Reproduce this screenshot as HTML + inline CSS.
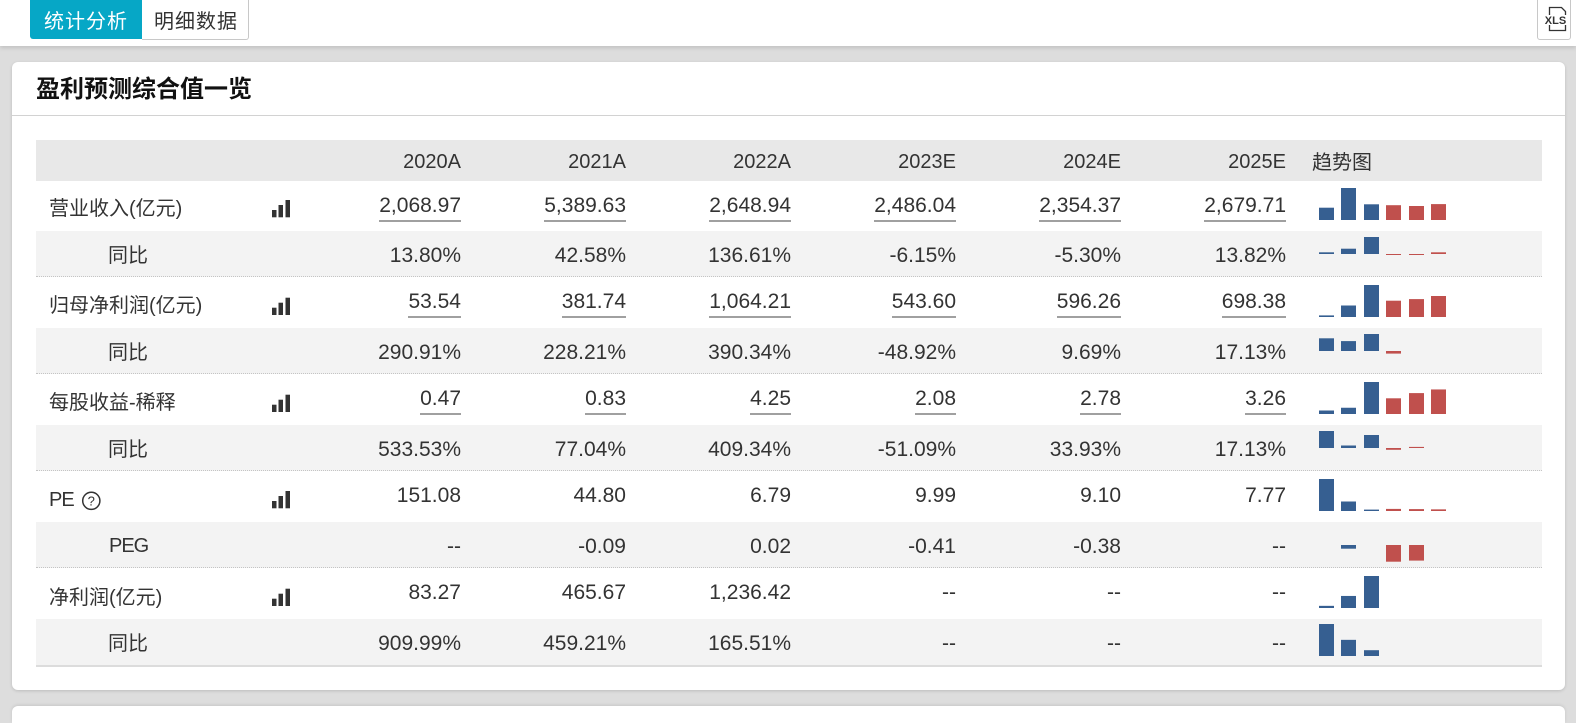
<!DOCTYPE html>
<html><head><meta charset="utf-8">
<style>
html{margin:0;padding:0;overflow:hidden;width:1576px;height:723px}
body{margin:0;padding:0;width:1576px;height:723px;overflow:hidden;background:#dddddd;position:relative;font-family:"Liberation Sans","Noto Sans CJK SC",sans-serif;color:#333}
.a{position:absolute;white-space:nowrap;line-height:24px;font-size:20px;color:#333}
.n{font-size:21px}
.u{padding-bottom:2px;border-bottom:2px solid #a0a0a0}
.bg{position:absolute;left:36px;width:1506px}
.w{background:#fff}
.g{background:#f3f3f3;border-bottom:1px dotted #c4c4c4;box-sizing:border-box}
</style></head><body>

<!-- top bar -->
<div style="position:absolute;left:0;top:0;width:1576px;height:46px;background:#fff;box-shadow:0 2px 4px rgba(0,0,0,0.13)"></div>
<div style="position:absolute;left:30px;top:0;width:112px;height:39px;background:#06a7c6;border-radius:0 0 0 3px"></div>
<div class="a" style="left:30px;width:112px;text-align:center;top:10px;color:#fff;letter-spacing:1px">统计分析</div>
<div style="position:absolute;left:142px;top:-1px;width:106px;height:39px;background:#fff;border:1px solid #c8c8c8;border-left:none;border-radius:0 0 3px 0"></div>
<div class="a" style="left:142px;width:108px;text-align:center;top:10px;letter-spacing:1px">明细数据</div>
<div style="position:absolute;left:1537px;top:-3px;width:32px;height:41px;background:#fff;border:1px solid #c8c8c8;border-radius:3px"></div>

<!-- main card -->
<div style="position:absolute;left:12px;top:62px;width:1553px;height:628px;background:#fff;border-radius:6px;box-shadow:0 1px 3px rgba(0,0,0,0.15)"></div>
<div style="position:absolute;left:12px;top:115px;width:1553px;height:1px;background:#d2d2d2"></div>
<div class="a" style="left:36px;top:75px;font-size:24px;line-height:30px;font-weight:bold;color:#111">盈利预测综合值一览</div>

<!-- second card (clipped) -->
<div style="position:absolute;left:12px;top:706px;width:1553px;height:17px;background:#fff;border-radius:6px 6px 0 0;box-shadow:0 -1px 3px rgba(0,0,0,0.1);overflow:hidden">
  <div class="a" style="left:24px;top:16px;font-size:24px;line-height:30px;font-weight:bold;color:#111">机构预测</div>
</div>

<!-- table backgrounds -->
<div class="bg" style="top:140px;height:41px;background:#e8e8e8"></div>
<div class="bg w" style="top:181px;height:50px"></div>
<div class="bg g" style="top:231px;height:46px"></div>
<div class="bg w" style="top:277px;height:51px"></div>
<div class="bg g" style="top:328px;height:46px"></div>
<div class="bg w" style="top:374px;height:51px"></div>
<div class="bg g" style="top:425px;height:46px"></div>
<div class="bg w" style="top:471px;height:51px"></div>
<div class="bg g" style="top:522px;height:46px"></div>
<div class="bg w" style="top:568px;height:51px"></div>
<div class="bg" style="top:619px;height:46px;background:#f3f3f3"></div>
<div class="bg" style="top:665px;height:2px;background:#dcdcdc"></div>

<!-- header -->
<div class="a" style="top:150px;right:1115px">2020A</div>
<div class="a" style="top:150px;right:950px">2021A</div>
<div class="a" style="top:150px;right:785px">2022A</div>
<div class="a" style="top:150px;right:620px">2023E</div>
<div class="a" style="top:150px;right:455px">2024E</div>
<div class="a" style="top:150px;right:290px">2025E</div>
<div class="a" style="top:151px;left:1312px">趋势图</div>

<!-- labels -->
<div class="a" style="top:197px;left:49px">营业收入(亿元)</div>
<div class="a" style="top:244px;left:108px">同比</div>
<div class="a" style="top:294px;left:49px">归母净利润(亿元)</div>
<div class="a" style="top:341px;left:108px">同比</div>
<div class="a" style="top:391px;left:49px">每股收益-稀释</div>
<div class="a" style="top:438px;left:108px">同比</div>
<div class="a" style="top:488px;left:49px;letter-spacing:-1px">PE</div>
<div class="a" style="top:534px;left:109px;letter-spacing:-1px">PEG</div>
<div class="a" style="top:586px;left:49px">净利润(亿元)</div>
<div class="a" style="top:632px;left:108px">同比</div>

<!-- row 1 -->
<div class="a n u" style="top:194px;right:1115px">2,068.97</div>
<div class="a n u" style="top:194px;right:950px">5,389.63</div>
<div class="a n u" style="top:194px;right:785px">2,648.94</div>
<div class="a n u" style="top:194px;right:620px">2,486.04</div>
<div class="a n u" style="top:194px;right:455px">2,354.37</div>
<div class="a n u" style="top:194px;right:290px">2,679.71</div>
<!-- row 2 -->
<div class="a n" style="top:244px;right:1115px">13.80%</div>
<div class="a n" style="top:244px;right:950px">42.58%</div>
<div class="a n" style="top:244px;right:785px">136.61%</div>
<div class="a n" style="top:244px;right:620px">-6.15%</div>
<div class="a n" style="top:244px;right:455px">-5.30%</div>
<div class="a n" style="top:244px;right:290px">13.82%</div>
<!-- row 3 -->
<div class="a n u" style="top:290px;right:1115px">53.54</div>
<div class="a n u" style="top:290px;right:950px">381.74</div>
<div class="a n u" style="top:290px;right:785px">1,064.21</div>
<div class="a n u" style="top:290px;right:620px">543.60</div>
<div class="a n u" style="top:290px;right:455px">596.26</div>
<div class="a n u" style="top:290px;right:290px">698.38</div>
<!-- row 4 -->
<div class="a n" style="top:341px;right:1115px">290.91%</div>
<div class="a n" style="top:341px;right:950px">228.21%</div>
<div class="a n" style="top:341px;right:785px">390.34%</div>
<div class="a n" style="top:341px;right:620px">-48.92%</div>
<div class="a n" style="top:341px;right:455px">9.69%</div>
<div class="a n" style="top:341px;right:290px">17.13%</div>
<!-- row 5 -->
<div class="a n u" style="top:387px;right:1115px">0.47</div>
<div class="a n u" style="top:387px;right:950px">0.83</div>
<div class="a n u" style="top:387px;right:785px">4.25</div>
<div class="a n u" style="top:387px;right:620px">2.08</div>
<div class="a n u" style="top:387px;right:455px">2.78</div>
<div class="a n u" style="top:387px;right:290px">3.26</div>
<!-- row 6 -->
<div class="a n" style="top:438px;right:1115px">533.53%</div>
<div class="a n" style="top:438px;right:950px">77.04%</div>
<div class="a n" style="top:438px;right:785px">409.34%</div>
<div class="a n" style="top:438px;right:620px">-51.09%</div>
<div class="a n" style="top:438px;right:455px">33.93%</div>
<div class="a n" style="top:438px;right:290px">17.13%</div>
<!-- row 7 -->
<div class="a n" style="top:484px;right:1115px">151.08</div>
<div class="a n" style="top:484px;right:950px">44.80</div>
<div class="a n" style="top:484px;right:785px">6.79</div>
<div class="a n" style="top:484px;right:620px">9.99</div>
<div class="a n" style="top:484px;right:455px">9.10</div>
<div class="a n" style="top:484px;right:290px">7.77</div>
<!-- row 8 -->
<div class="a n" style="top:535px;right:1115px">--</div>
<div class="a n" style="top:535px;right:950px">-0.09</div>
<div class="a n" style="top:535px;right:785px">0.02</div>
<div class="a n" style="top:535px;right:620px">-0.41</div>
<div class="a n" style="top:535px;right:455px">-0.38</div>
<div class="a n" style="top:535px;right:290px">--</div>
<!-- row 9 -->
<div class="a n" style="top:581px;right:1115px">83.27</div>
<div class="a n" style="top:581px;right:950px">465.67</div>
<div class="a n" style="top:581px;right:785px">1,236.42</div>
<div class="a n" style="top:581px;right:620px">--</div>
<div class="a n" style="top:581px;right:455px">--</div>
<div class="a n" style="top:581px;right:290px">--</div>
<!-- row 10 -->
<div class="a n" style="top:632px;right:1115px">909.99%</div>
<div class="a n" style="top:632px;right:950px">459.21%</div>
<div class="a n" style="top:632px;right:785px">165.51%</div>
<div class="a n" style="top:632px;right:620px">--</div>
<div class="a n" style="top:632px;right:455px">--</div>
<div class="a n" style="top:632px;right:290px">--</div>

<svg style="position:absolute;left:0;top:0" width="1576" height="723" viewBox="0 0 1576 723" xmlns="http://www.w3.org/2000/svg">
<!-- XLS icon -->
<g fill="none" stroke="#333" stroke-width="1.3">
<path d="M1549.5 15 V7.5 H1561.5 L1565.5 11.5 V15"/>
<path d="M1549.5 25 V30.5 H1565.5 V25"/>
</g>
<text x="1555.5" y="24" text-anchor="middle" font-family="Liberation Sans" font-weight="bold" font-size="11" fill="#333">XLS</text>

<!-- PE help icon -->
<circle cx="91.3" cy="500.8" r="8.6" fill="none" stroke="#333" stroke-width="1.5"/>
<text x="91.3" y="505.5" text-anchor="middle" font-family="Liberation Sans" font-size="13" fill="#333">?</text>

<!-- row chart icons -->
<g fill="#333">
<rect x="272" y="210" width="4.5" height="7.3"/><rect x="278.5" y="205" width="4.5" height="12.3"/><rect x="285.5" y="200" width="4.5" height="17.3"/>
<rect x="272" y="307.7" width="4.5" height="7.3"/><rect x="278.5" y="302.7" width="4.5" height="12.3"/><rect x="285.5" y="297.7" width="4.5" height="17.3"/>
<rect x="272" y="404.7" width="4.5" height="7.3"/><rect x="278.5" y="399.7" width="4.5" height="12.3"/><rect x="285.5" y="394.7" width="4.5" height="17.3"/>
<rect x="272" y="501" width="4.5" height="7.3"/><rect x="278.5" y="496" width="4.5" height="12.3"/><rect x="285.5" y="491" width="4.5" height="17.3"/>
<rect x="272" y="598.7" width="4.5" height="7.3"/><rect x="278.5" y="593.7" width="4.5" height="12.3"/><rect x="285.5" y="588.7" width="4.5" height="17.3"/>
</g>

<!-- trend bars: blue -->
<g fill="#365f91">
<rect x="1319" y="207.7" width="15" height="12.3"/>
<rect x="1341" y="188" width="15" height="32"/>
<rect x="1364" y="204.3" width="15" height="15.7"/>

<rect x="1319" y="252.3" width="15" height="1.7"/>
<rect x="1341" y="248.7" width="15" height="5.3"/>
<rect x="1364" y="237" width="15" height="17"/>

<rect x="1319" y="315.4" width="15" height="1.6"/>
<rect x="1341" y="305.5" width="15" height="11.5"/>
<rect x="1364" y="285" width="15" height="32"/>

<rect x="1319" y="338.3" width="15" height="12.7"/>
<rect x="1341" y="341.1" width="15" height="9.9"/>
<rect x="1364" y="334" width="15" height="17"/>

<rect x="1319" y="410.5" width="15" height="3.5"/>
<rect x="1341" y="407.75" width="15" height="6.25"/>
<rect x="1364" y="382" width="15" height="32"/>

<rect x="1319" y="431" width="15" height="17"/>
<rect x="1341" y="445.5" width="15" height="2.5"/>
<rect x="1364" y="435" width="15" height="13"/>

<rect x="1319" y="479" width="15" height="32"/>
<rect x="1341" y="501.5" width="15" height="9.5"/>
<rect x="1364" y="509.6" width="15" height="1.4"/>

<rect x="1341" y="545" width="15" height="3.7"/>

<rect x="1319" y="605.85" width="15" height="2.15"/>
<rect x="1341" y="595.95" width="15" height="12.05"/>
<rect x="1364" y="576" width="15" height="32"/>

<rect x="1319" y="624" width="15" height="32"/>
<rect x="1341" y="639.85" width="15" height="16.15"/>
<rect x="1364" y="650.2" width="15" height="5.8"/>
</g>
<!-- trend bars: red -->
<g fill="#c0504d">
<rect x="1386" y="205.2" width="15" height="14.8"/>
<rect x="1409" y="206" width="15" height="14"/>
<rect x="1431" y="204.1" width="15" height="15.9"/>

<rect x="1386" y="254" width="15" height="1"/>
<rect x="1409" y="254" width="15" height="1"/>
<rect x="1431" y="252.3" width="15" height="1.7"/>

<rect x="1386" y="300.7" width="15" height="16.3"/>
<rect x="1409" y="299.1" width="15" height="17.9"/>
<rect x="1431" y="296" width="15" height="21"/>

<rect x="1386" y="351" width="15" height="2.6"/>

<rect x="1386" y="398.3" width="15" height="15.7"/>
<rect x="1409" y="393.1" width="15" height="20.9"/>
<rect x="1431" y="389.45" width="15" height="24.55"/>

<rect x="1386" y="448" width="15" height="1.8"/>
<rect x="1409" y="446.9" width="15" height="1.1"/>

<rect x="1386" y="508.9" width="15" height="2.1"/>
<rect x="1409" y="509.1" width="15" height="1.9"/>
<rect x="1431" y="509.35" width="15" height="1.65"/>

<rect x="1386" y="545" width="15" height="16.7"/>
<rect x="1409" y="545" width="15" height="15.6"/>
</g>
</svg>
</body></html>
